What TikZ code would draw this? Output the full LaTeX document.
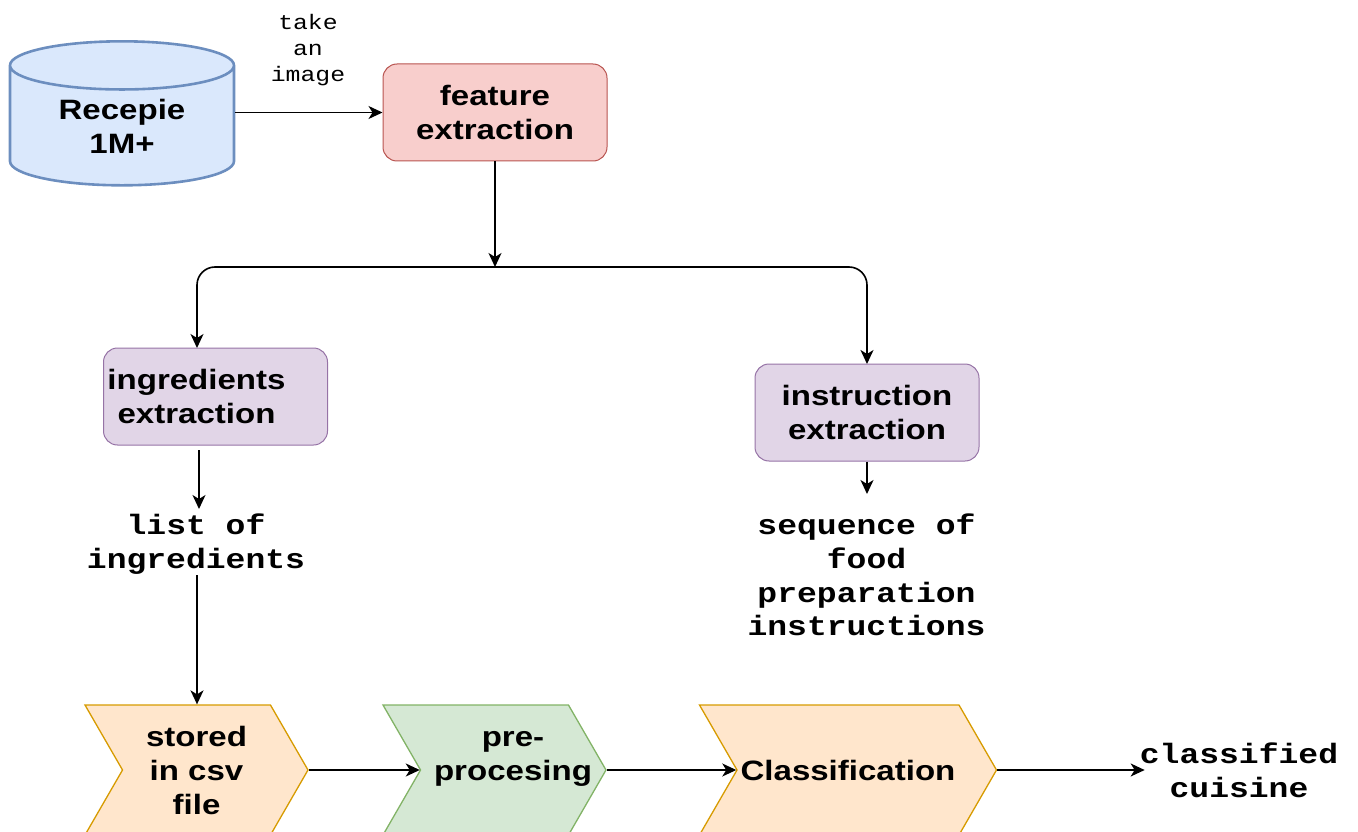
\documentclass[tikz,border=0pt]{standalone}
\usepackage{fontspec}
\setmainfont{Liberation Sans}[FakeStretch=1.18]
\newfontfamily\codefont{Liberation Mono}[FakeStretch=1.18]
\usetikzlibrary{arrows.meta,shapes.geometric,shapes.symbols}
\definecolor{dbfill}{HTML}{DAE8FC}
\definecolor{dbline}{HTML}{6C8EBF}
\definecolor{redfill}{HTML}{F8CECC}
\definecolor{redline}{HTML}{B85450}
\definecolor{purplefill}{HTML}{E1D5E7}
\definecolor{purpleline}{HTML}{9673A6}
\definecolor{orangefill}{HTML}{FFE6CC}
\definecolor{orangeline}{HTML}{D79B00}
\definecolor{greenfill}{HTML}{D5E8D4}
\definecolor{greenline}{HTML}{82B366}
\begin{document}
\begin{tikzpicture}[x=1pt,y=-1pt]
            \tikzstyle{every node}+=[inner sep=0pt,align=center]
            \tikzstyle{boldtext}=[font=\fontsize{28}{34}\selectfont\bfseries]
            \tikzstyle{roundbox}=[boldtext,draw,rounded corners=14pt,line width=1pt,minimum width=224pt,minimum height=97pt]
            \tikzstyle{chevron}=[boldtext,draw,line width=1.3pt,shape=signal,signal to=east,signal from=west,signal pointer angle=120,minimum height=130pt]
            \tikzstyle{smallcode}=[font=\fontsize{21}{26}\codefont]
            \tikzstyle{boldcode}=[font=\fontsize{28}{33.6}\codefont\bfseries]
            \tikzstyle{link}=[black,line width=1.6pt,-{Stealth[length=14pt,width=13pt,inset=4pt]}]
            \useasboundingbox (0,0) rectangle (1358,832);
            \node (recipes) [boldtext,draw=dbline,fill=dbfill,line width=2.6pt,shape=cylinder,shape border rotate=90,aspect=0.38,minimum width=224pt,minimum height=144pt] at (122,126) {Recepie\\1M+};
            \node (feature) [roundbox,draw=redline,fill=redfill] at (495,112.5) {feature\\extraction};
            \node (ingredients) [roundbox,draw=purpleline,fill=purplefill] at (215.5,396.5) {ingredients\hspace*{38pt}\\extraction\hspace*{38pt}};
            \node (instruction) [roundbox,draw=purpleline,fill=purplefill] at (867,412.5) {instruction\\extraction};
            \node (stored) [chevron,draw=orangeline,fill=orangefill,minimum width=223pt] at (196.5,770) {stored\\in csv\\file};
            \node (preproc) [chevron,draw=greenline,fill=greenfill,minimum width=223pt] at (494.5,770) {\makebox[0pt]{\hspace*{37pt}pre-}\\\makebox[0pt]{\hspace*{37pt}procesing}\\[-6pt]~};
            \node (classify) [chevron,draw=orangeline,fill=orangefill,minimum width=297pt] at (848,770) {Classification};
            \node (takeimage) [smallcode] at (308,50) {take\\an\\image};
            \node (listing) [boldcode] at (196,544) {list of\\ingredients};
            \node (sequence) [boldcode] at (866.5,575) {sequence of\\food\\preparation\\instructions};
            \node (cuisine) [boldcode] at (1239,770) {classified\\cuisine};
            \coordinate (split) at (495,267);
            \coordinate (ingredin) at (197,348);
            \coordinate (ingredout) at (199,450);
            \coordinate (listin) at (199,509);
            \coordinate (instrin) at (867,364);
            \coordinate (seqin) at (867,494);
            \coordinate (listout) at (197,575);
            \draw [link] (recipes.east |- feature.west) -- (feature.west);
            \draw [link] (feature.south) -- (split);
            \draw [link,rounded corners=18pt] (split) -- (split -| ingredin) -- (ingredin);
            \draw [link,rounded corners=18pt] (split) -- (split -| instrin) -- (instrin);
            \draw [link] (ingredout) -- (listin);
            \draw [link] (listout) -- (listout |- stored.north);
            \draw [link] (instruction.south) -- (seqin);
            \draw [link] (stored.east) -- (preproc.west);
            \draw [link] (preproc.east) -- (classify.west);
            \draw [link] (classify.east) -- ([xshift=5pt]cuisine.west);
\end{tikzpicture}
\end{document}
